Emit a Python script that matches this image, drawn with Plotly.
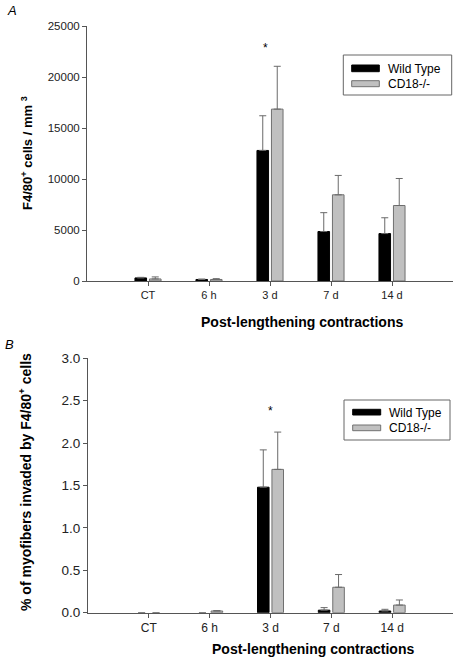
import plotly.graph_objects as go

W, H = 454, 657
categories = ["CT", "6 h", "3 d", "7 d", "14 d"]

# Panel A: F4/80+ cells / mm3
a_wt = [300, 150, 12800, 4850, 4650]
a_wt_err = [60, 40, 3400, 1850, 1550]
a_cd = [200, 150, 16850, 8450, 7400]
a_cd_err = [200, 80, 4200, 1900, 2650]

# Panel B: % of myofibers invaded
b_wt = [0.0, 0.0, 1.48, 0.03, 0.02]
b_wt_err = [0.0, 0.0, 0.44, 0.03, 0.02]
b_cd = [0.0, 0.02, 1.69, 0.30, 0.09]
b_cd_err = [0.0, 0.005, 0.44, 0.15, 0.06]

series_names = ["Wild Type", "CD18-/-"]

FONT = "Liberation Sans, Arial, sans-serif"
ERRC = "#6a6a6a"


def px(x):
    return x / W


def py(y):
    return 1 - y / H


fig = go.Figure()


def add_bars(vals, errs, color, line, xa, ya, name):
    lw = [1 if v > 0 else 0 for v in vals]
    err = [e if v > 0 else None for v, e in zip(vals, errs)]
    fig.add_trace(go.Bar(
        x=categories, y=vals, name=name, xaxis=xa, yaxis=ya,
        marker=dict(color=color, line=dict(color=line, width=lw)),
        error_y=dict(type="data", array=err, arrayminus=[0] * len(errs),
                     symmetric=False, color=ERRC, thickness=1, width=3.5),
        showlegend=False,
    ))


add_bars(a_wt, a_wt_err, "#000000", "#000000", "x", "y", series_names[0])
add_bars(a_cd, a_cd_err, "#c0c0c0", "#707070", "x", "y", series_names[1])
add_bars(b_wt, b_wt_err, "#000000", "#000000", "x2", "y2", series_names[0])
add_bars(b_cd, b_cd_err, "#c0c0c0", "#707070", "x2", "y2", series_names[1])


def axis(size, **kw):
    d = dict(showgrid=False, zeroline=False, showline=True, linecolor="#555",
             linewidth=1, ticks="outside", ticklen=4, tickcolor="#555", automargin=False,
             tickfont=dict(family=FONT, size=size, color="#222"))
    d.update(kw)
    return d


fig.update_layout(
    width=W, height=H, margin=dict(l=0, r=0, t=0, b=0, pad=0, autoexpand=False),
    paper_bgcolor="white", plot_bgcolor="white",
    barmode="group", bargap=0.525, bargroupgap=0.2,
    showlegend=False,
    font=dict(family=FONT, color="#000"),
    xaxis=axis(11, domain=[px(87), px(453)], anchor="y", range=[-1, 5], type="category"),
    yaxis=axis(11.5, domain=[py(281), py(26)], anchor="x", range=[0, 25000], dtick=5000,
               tickformat="d"),
    xaxis2=axis(12, domain=[px(88), px(453)], anchor="y2", range=[-1, 5], type="category"),
    yaxis2=axis(13.5, domain=[py(612.7), py(358.3)], anchor="x2", range=[0, 3.0], dtick=0.5,
                tickformat=".1f"),
)

ann = []
shapes = []


def note(x, y, text, size, angle=0, xanchor="center"):
    ann.append(dict(x=px(x), y=py(y), xref="paper", yref="paper", text=text,
                    showarrow=False, xanchor=xanchor, yanchor="middle", textangle=angle,
                    font=dict(size=size)))


# Panel labels
note(5, 10, "<i>A</i>", 13, xanchor="left")
note(3, 344, "<i>B</i>", 13, xanchor="left")

# Axis titles
note(27, 153, "<b>F4/80<sup>+</sup> cells / mm <sup>3</sup></b>", 13, angle=-90)
note(25, 482, "<b>% of myofibers invaded by F4/80<sup>+</sup> cells</b>", 14, angle=-90)
note(302, 322, "<b>Post-lengthening contractions</b>", 14)
note(313, 649, "<b>Post-lengthening contractions</b>", 14)

# Significance asterisks
ann.append(dict(x="3 d", y=22850, xref="x", yref="y", text="*", showarrow=False,
                xshift=-5, yanchor="middle", font=dict(size=12)))
ann.append(dict(x="3 d", y=2.375, xref="x2", yref="y2", text="*", showarrow=False,
                yanchor="middle", font=dict(size=12)))


def legend(box, sw_x, sw_y, txt_x, txt_y):
    x0, y0, x1, y1 = box
    shapes.append(dict(type="rect", xref="paper", yref="paper", x0=px(x0), x1=px(x1),
                       y0=py(y1), y1=py(y0), line=dict(color="#666", width=1),
                       fillcolor="white"))
    cols = [("#000000", "#000000"), ("#c0c0c0", "#707070")]
    for i, (fc, lc) in enumerate(cols):
        ya, yb = sw_y[i]
        shapes.append(dict(type="rect", xref="paper", yref="paper", x0=px(sw_x[0]),
                           x1=px(sw_x[1]), y0=py(yb), y1=py(ya),
                           line=dict(color=lc, width=1), fillcolor=fc))
        note(txt_x, txt_y[i], series_names[i], 12, xanchor="left")


legend((343.3, 55, 451.7, 95), (351.7, 379.3), [(65, 71.7), (80.7, 86.7)], 385.5, [69, 84.3])
legend((344, 400, 450, 440), (352.7, 380.7), [(409.3, 415), (425, 430.7)], 386.7, [413.3, 428.3])

fig.update_layout(annotations=ann, shapes=shapes)

fig.write_html("out.html", config={"displayModeBar": False},
               post_script="document.body.style.margin='0';")
